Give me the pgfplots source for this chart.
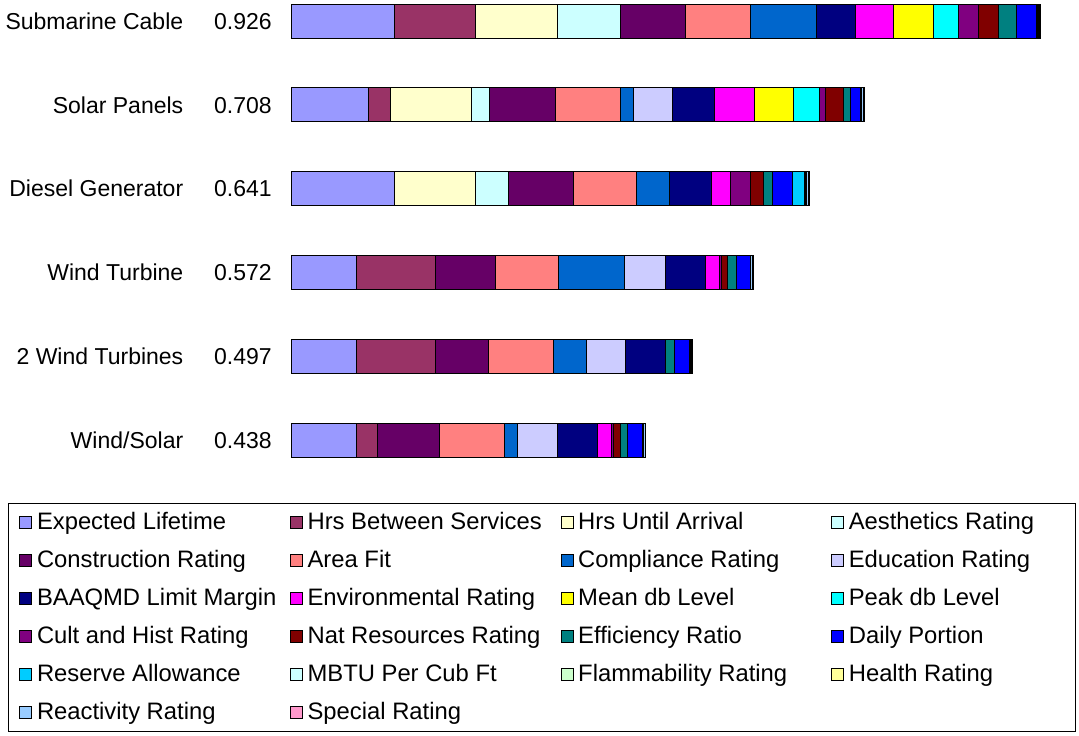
\documentclass[border=0pt]{standalone}
\usepackage{pgfplots}
\pgfplotsset{compat=1.18}
\usepackage{pgfplotstable}
\usepackage{fontspec}
\setmainfont{Liberation Sans}
\definecolor{c1}{HTML}{9999FF}
\definecolor{c2}{HTML}{993366}
\definecolor{c3}{HTML}{FFFFCC}
\definecolor{c4}{HTML}{CCFFFF}
\definecolor{c5}{HTML}{660066}
\definecolor{c6}{HTML}{FF8080}
\definecolor{c7}{HTML}{0066CC}
\definecolor{c8}{HTML}{CCCCFF}
\definecolor{c9}{HTML}{000080}
\definecolor{c10}{HTML}{FF00FF}
\definecolor{c11}{HTML}{FFFF00}
\definecolor{c12}{HTML}{00FFFF}
\definecolor{c13}{HTML}{800080}
\definecolor{c14}{HTML}{800000}
\definecolor{c15}{HTML}{008080}
\definecolor{c16}{HTML}{0000FF}
\definecolor{c17}{HTML}{00CCFF}
\definecolor{c18}{HTML}{CCFFFF}
\definecolor{c19}{HTML}{CCFFCC}
\definecolor{c20}{HTML}{FFFF99}
\definecolor{c21}{HTML}{99CCFF}
\definecolor{c22}{HTML}{FF99CC}
\newcommand\lgd[1]{\makebox[216pt][l]{#1}}
\pgfplotstableread{
y s1 s2 s3 s4 s5 s6 s7 s8 s9 s10 s11 s12 s13 s14 s15 s16 s17 s18 s19 s20 s21 s22
0 0.1277 0.1006 0.1005 0.0779 0.0812 0.0804 0.0807 0      0.0490 0.0470 0.0490 0.0314 0.0247 0.0247 0.0223 0.0247 0.0010 0      0 0.0010 0.0015 0.0005
1 0.0956 0.0272 0.1006 0.0223 0.0807 0.0812 0.0152 0.0486 0.0524 0.0490 0.0487 0.0321 0.0066 0.0226 0.0087 0.0120 0.0010 0      0 0.0010 0.0020 0.0012
2 0.1277 0      0.1006 0.0399 0.0807 0.0775 0.0412 0      0.0519 0.0240 0      0      0.0247 0.0156 0.0111 0.0247 0.0148 0.0020 0 0.0010 0.0020 0.0010
3 0.0804 0.0985 0      0      0.0742 0.0779 0.0807 0.0507 0.0503 0.0168 0      0      0.0030 0.0074 0.0106 0.0169 0      0      0 0.0010 0.0020 0.0010
4 0.0804 0.0985 0      0      0.0650 0.0804 0.0408 0.0482 0.0499 0      0      0      0      0      0.0103 0.0189 0      0      0 0.0010 0.0020 0.0012
5 0.0804 0.0268 0      0      0.0762 0.0804 0.0161 0.0491 0.0491 0.0185 0      0      0.0025 0.0082 0.0087 0.0185 0      0      0 0.0010 0.0020 0.0010
}\data
\begin{document}
\begin{tikzpicture}
\begin{axis}[
  scale only axis,
  width=768.55pt, height=481.85pt,
  xmin=0, xmax=0.95, ymin=-0.25, ymax=5.5,
  y dir=reverse,
  xbar stacked, bar width=34pt,
  axis line style={draw=none},
  xtick=\empty,
  ytick={0,1,2,3,4,5},
  yticklabels={{Submarine Cable\hspace{31pt}0.926},{Solar Panels\hspace{31pt}0.708},{Diesel Generator\hspace{31pt}0.641},{Wind Turbine\hspace{31pt}0.572},{2 Wind Turbines\hspace{31pt}0.497},{Wind/Solar\hspace{31pt}0.438}},
  major tick length=0pt,
  yticklabel style={anchor=east, inner sep=0pt, xshift=-19pt, font=\fontsize{23}{27}\selectfont},
  clip=false,
  every axis plot/.append style={draw=black, line width=0.8pt},
  legend columns=4,
  legend image code/.code={\draw[#1, draw=black, line width=0.6pt] (0pt,-6pt) rectangle (12pt,6pt);},
  legend style={at={(axis cs:-0.3498,5.752)}, anchor=north west, draw=black, line width=0.8pt,
    font=\fontsize{23.8}{27}\selectfont, inner xsep=11pt, inner ysep=8.5pt, row sep=17pt,
    nodes={inner sep=0pt, text height=18pt, text depth=3pt},
    /tikz/every odd column/.append style={column sep=5pt},
    /tikz/every even column/.append style={column sep=37pt}},
]
\addplot[fill=c1] table[x=s1,y=y]{\data};
\addplot[fill=c2] table[x=s2,y=y]{\data};
\addplot[fill=c3] table[x=s3,y=y]{\data};
\addplot[fill=c4] table[x=s4,y=y]{\data};
\addplot[fill=c5] table[x=s5,y=y]{\data};
\addplot[fill=c6] table[x=s6,y=y]{\data};
\addplot[fill=c7] table[x=s7,y=y]{\data};
\addplot[fill=c8] table[x=s8,y=y]{\data};
\addplot[fill=c9] table[x=s9,y=y]{\data};
\addplot[fill=c10] table[x=s10,y=y]{\data};
\addplot[fill=c11] table[x=s11,y=y]{\data};
\addplot[fill=c12] table[x=s12,y=y]{\data};
\addplot[fill=c13] table[x=s13,y=y]{\data};
\addplot[fill=c14] table[x=s14,y=y]{\data};
\addplot[fill=c15] table[x=s15,y=y]{\data};
\addplot[fill=c16] table[x=s16,y=y]{\data};
\addplot[fill=c17] table[x=s17,y=y]{\data};
\addplot[fill=c18] table[x=s18,y=y]{\data};
\addplot[fill=c19] table[x=s19,y=y]{\data};
\addplot[fill=c20] table[x=s20,y=y]{\data};
\addplot[fill=c21] table[x=s21,y=y]{\data};
\addplot[fill=c22] table[x=s22,y=y]{\data};
\legend{\lgd{Expected Lifetime},\lgd{Hrs Between Services},\lgd{Hrs Until Arrival},\lgd{Aesthetics Rating},
\lgd{Construction Rating},\lgd{Area Fit},\lgd{Compliance Rating},\lgd{Education Rating},
\lgd{BAAQMD Limit Margin},\lgd{Environmental Rating},\lgd{Mean db Level},\lgd{Peak db Level},
\lgd{Cult and Hist Rating},\lgd{Nat Resources Rating},\lgd{Efficiency Ratio},\lgd{Daily Portion},
\lgd{Reserve Allowance},\lgd{MBTU Per Cub Ft},\lgd{Flammability Rating},\lgd{Health Rating},
\lgd{Reactivity Rating},\lgd{Special Rating}}
\path[draw=none] (axis cs:-0.3597,-0.2506) rectangle (axis cs:0.974,8.52);
\end{axis}
\end{tikzpicture}
\end{document}
